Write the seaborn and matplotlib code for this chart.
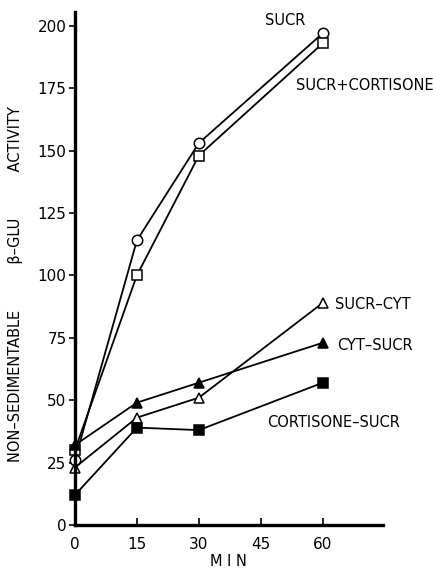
import matplotlib

matplotlib.use('Agg')

import pandas as pd
import seaborn as sns
import matplotlib.pyplot as plt

# time points (min)
minutes = [0, 15, 30, 60]

# non-sedimentable beta-glu activity per treatment
sucr = [26, 114, 153, 197]
sucr_cortisone = [30, 100, 148, 193]
sucr_cyt = [23, 43, 51, 89]
cyt_sucr = [32, 49, 57, 73]
cortisone_sucr = [12, 39, 38, 57]

series_names = ['SUCR', 'SUCR+CORTISONE', 'SUCR\u2013CYT', 'CYT\u2013SUCR', 'CORTISONE\u2013SUCR']
series_values = [sucr, sucr_cortisone, sucr_cyt, cyt_sucr, cortisone_sucr]

x_ticks = [0, 15, 30, 45, 60]
y_ticks = [0, 25, 50, 75, 100, 125, 150, 175, 200]


def main():
    sns.set_style('ticks', {'text.color': 'black', 'axes.labelcolor': 'black',
                            'xtick.color': 'black', 'ytick.color': 'black',
                            'axes.edgecolor': 'black'})
    plt.rcParams['font.family'] = ['DejaVu Sans']

    rows = []
    for name, vals in zip(series_names, series_values):
        for m, v in zip(minutes, vals):
            rows.append({'min': m, 'activity': v, 'group': name})
    df = pd.DataFrame(rows)

    fig = plt.figure(figsize=(4.33, 5.70), dpi=100)
    ax = fig.add_axes([0.173, 0.079, 0.711, 0.9])

    markers = {
        'SUCR': ('o', 'white'),
        'SUCR+CORTISONE': ('s', 'white'),
        'SUCR\u2013CYT': ('^', 'white'),
        'CYT\u2013SUCR': ('^', 'black'),
        'CORTISONE\u2013SUCR': ('s', 'black'),
    }
    for name in series_names:
        sub = df[df['group'] == name]
        mk, fc = markers[name]
        sns.lineplot(data=sub, x='min', y='activity', ax=ax, color='black',
                     linewidth=1.3, marker=mk, markersize=7.5,
                     markerfacecolor=fc, markeredgecolor='black',
                     markeredgewidth=1.1, legend=False)

    # direct labels
    ax.text(46, 202, 'SUCR', fontsize=10.5, ha='left', va='center')
    ax.text(53.5, 176, 'SUCR+CORTISONE', fontsize=10.5, ha='left', va='center')
    ax.text(63, 88.5, 'SUCR\u2013CYT', fontsize=10.5, ha='left', va='center')
    ax.text(63.5, 72, 'CYT\u2013SUCR', fontsize=10.5, ha='left', va='center')
    ax.text(46.5, 41, 'CORTISONE\u2013SUCR', fontsize=10.5, ha='left', va='center')

    ax.set_xlim(0, 74.5)
    ax.set_ylim(0, 205.5)
    ax.set_xticks(x_ticks)
    ax.set_yticks(y_ticks)
    ax.tick_params(axis='x', direction='in', length=5, width=1.2, labelsize=11, pad=9)
    ax.tick_params(axis='y', direction='out', length=4, width=1.2, labelsize=11, pad=2)
    ax.set_xlabel('M I N', fontsize=10.5, labelpad=1)
    ax.set_ylabel('NON\u2013SEDIMENTABLE          \u03b2\u2013GLU          ACTIVITY', fontsize=10.5)
    ax.yaxis.set_label_coords(-0.17, 0.47)

    sns.despine(ax=ax)
    ax.spines['left'].set_linewidth(2.4)
    ax.spines['bottom'].set_linewidth(2.4)
    for ln in ax.lines:
        ln.set_clip_on(False)

    fig.savefig('out.png', dpi=100)


if __name__ == "__main__":
    main()
